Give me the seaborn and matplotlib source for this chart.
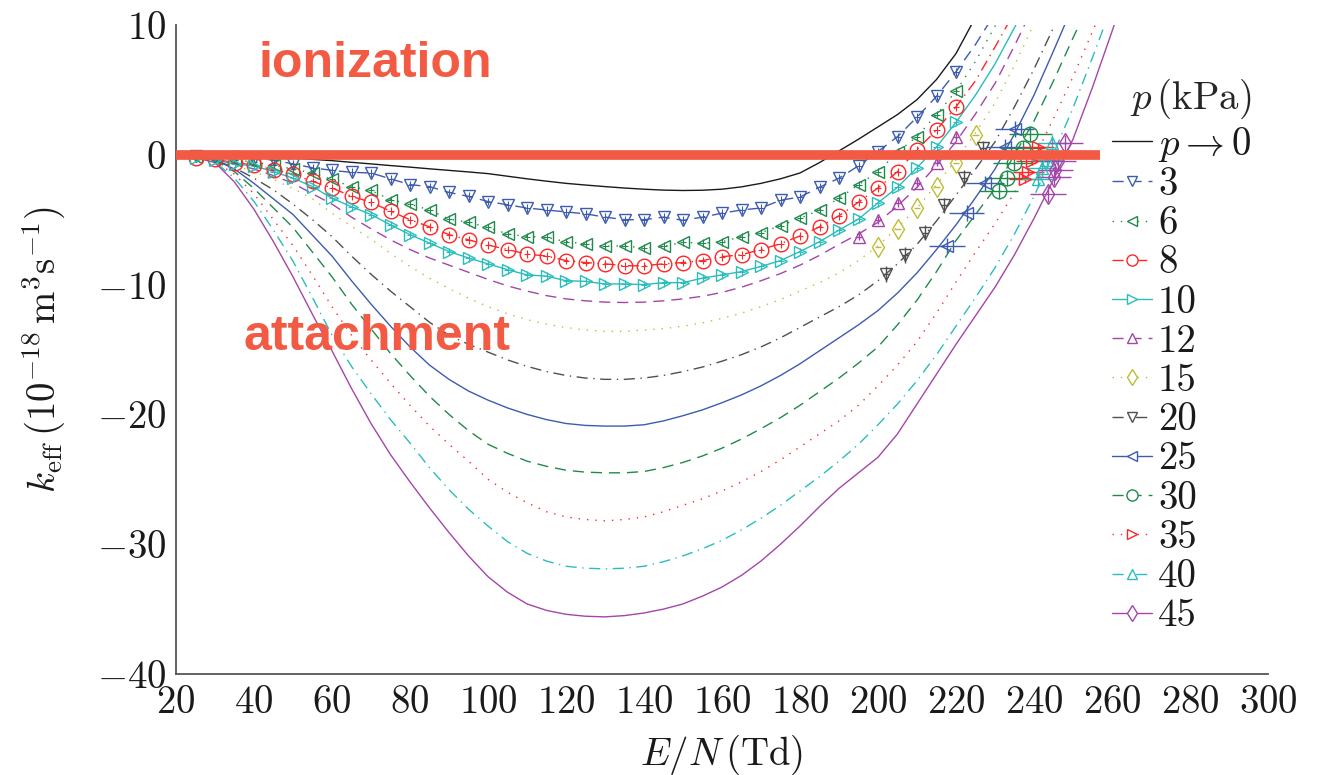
import matplotlib
matplotlib.use("Agg")
import numpy as np
import pandas as pd
import seaborn as sns
import matplotlib.pyplot as plt
from matplotlib.lines import Line2D

# ---------------- data ----------------
# dense E/N grid (low pressures, measured every 5 Td up to 220 Td)
EN_DENSE = [25, 30, 35, 40, 45, 50, 55, 60, 65, 70, 75, 80, 85, 90, 95, 100,
            105, 110, 115, 120, 125, 130, 135, 140, 145, 150, 155, 160, 165,
            170, 175, 180, 185, 190, 195, 200, 205, 210, 215, 220,
            225, 230, 235, 240]
N_MEAS_LOW = 40  # number of measured points (25..220 Td)

K_3 = [-0.1, -0.15, -0.2, -0.3, -0.4, -0.7, -1.0, -1.2, -1.35, -1.4, -1.85, -2.3,
       -2.45, -2.9, -3.2, -3.6, -3.85, -4.1, -4.25, -4.4, -4.55, -4.8, -5.0, -5.0,
       -4.8, -5.05, -4.8, -4.5, -4.25, -4.1, -3.5, -3.25, -2.5, -1.8, -0.85, 0.25,
       1.4, 2.9, 4.5, 6.4, 8.5, 10.9, 13.5, 16.0]
K_6 = [-0.15, -0.25, -0.4, -0.55, -0.8, -1.1, -1.4, -1.9, -2.45, -2.75, -3.45, -3.8,
       -4.25, -4.95, -5.2, -5.6, -6.1, -6.3, -6.35, -6.7, -6.85, -7.05, -7.0, -7.2,
       -7.05, -6.75, -6.8, -6.7, -6.3, -6.0, -5.45, -4.9, -4.25, -3.35, -2.3, -1.3,
       0.2, 1.4, 3.1, 4.9, 7.2, 9.9, 12.6, 15.5]
K_8 = [-0.25, -0.35, -0.6, -0.8, -1.15, -1.5, -2.05, -2.55, -3.2, -3.65, -4.35, -5.0,
       -5.55, -6.15, -6.55, -6.95, -7.3, -7.65, -7.8, -8.15, -8.3, -8.4, -8.55, -8.55,
       -8.4, -8.3, -8.15, -7.85, -7.7, -7.3, -6.85, -6.25, -5.55, -4.7, -3.65, -2.55,
       -1.3, 0.4, 1.9, 3.7, 5.7, 8.3, 11.0, 14.0]
K_10 = [-0.25, -0.4, -0.7, -0.85, -1.3, -1.8, -2.45, -3.35, -4.0, -4.6, -5.4, -6.15,
        -6.8, -7.45, -7.95, -8.4, -8.85, -9.25, -9.35, -9.7, -9.75, -9.95, -9.95, -10.0,
        -9.85, -9.85, -9.5, -9.25, -9.0, -8.6, -8.15, -7.45, -6.7, -5.8, -4.95, -3.7,
        -2.5, -1.0, 0.6, 2.5, 4.6, 7.0, 9.8, 12.8]

# model curves, 5 Td grid
EN_GRID = [25, 30, 35, 40, 45, 50, 55, 60, 65, 70, 75, 80, 85, 90, 95, 100,
           105, 110, 115, 120, 125, 130, 135, 140, 145, 150, 155, 160, 165,
           170, 175, 180, 185, 190, 195, 200, 205, 210, 215, 220, 225, 230,
           235, 240, 245, 250, 255, 260, 265]
K_0 = [0.0, -0.02, -0.05, -0.1, -0.18, -0.25, -0.35, -0.45, -0.58, -0.7, -0.83, -0.95,
       -1.08, -1.2, -1.32, -1.45, -1.65, -1.85, -2.03, -2.2, -2.33, -2.45, -2.56, -2.65,
       -2.72, -2.75, -2.73, -2.65, -2.47, -2.2, -1.85, -1.4, -0.6, 0.3, 1.2, 2.15,
       3.1, 4.25, 5.8, 7.8, 10.6, 13.5, 16.5, 19.5, 22.5, 25.5, 28.5, 32.0, 35.5]
K_12 = [-0.2, -0.3, -0.7, -1.1, -1.6, -2.2, -3.0, -3.8, -4.8, -5.7, -6.55, -7.3,
        -7.95, -8.5, -9.05, -9.6, -10.1, -10.5, -10.85, -11.1, -11.25, -11.35, -11.38,
        -11.35, -11.25, -11.1, -10.9, -10.6, -10.2, -9.7, -9.15, -8.5, -7.75, -6.9,
        -6.1, -5.2, -3.95, -2.5, -0.8, 1.0, 3.15, 5.5, 8.4, 11.5, 14.7, 18.0, 21.5,
        25.0, 28.5]
K_15 = [-0.2, -0.35, -0.8, -1.3, -1.9, -2.6, -3.4, -4.5, -5.5, -6.5, -7.6, -8.6,
        -9.5, -10.3, -11.05, -11.7, -12.25, -12.7, -13.05, -13.3, -13.5, -13.6, -13.6,
        -13.5, -13.4, -13.2, -12.95, -12.6, -12.2, -11.7, -11.15, -10.5, -9.85, -9.1,
        -8.15, -7.0, -5.6, -4.1, -2.3, -0.4, 1.7, 4.0, 6.9, 10.1, 13.5, 17.0, 20.5,
        24.0, 27.5]
K_20 = [-0.2, -0.4, -1.0, -1.8, -2.7, -3.8, -5.0, -6.3, -7.8, -9.2, -10.5, -11.7,
        -12.9, -13.9, -14.6, -15.2, -15.8, -16.3, -16.7, -17.0, -17.2, -17.3, -17.3,
        -17.2, -17.0, -16.7, -16.35, -15.9, -15.4, -14.8, -14.1, -13.3, -12.5, -11.7,
        -10.8, -9.7, -8.4, -6.9, -5.1, -3.1, -1.1, 1.0, 3.7, 6.6, 9.8, 13.0, 16.5,
        20.0, 23.5]
K_25 = [-0.2, -0.4, -1.1, -2.2, -3.4, -4.6, -6.2, -7.8, -9.7, -11.5, -13.2, -14.8,
        -16.2, -17.3, -18.2, -18.9, -19.5, -20.0, -20.4, -20.7, -20.85, -20.9, -20.9,
        -20.8, -20.5, -20.1, -19.65, -19.1, -18.5, -17.8, -17.0, -16.1, -15.1, -14.1,
        -13.1, -12.0, -10.65, -9.1, -7.3, -5.4, -3.3, -1.1, 1.6, 4.6, 8.0, 11.5, 15.2,
        19.0, 23.0]
K_30 = [-0.2, -0.45, -1.3, -2.6, -4.1, -5.6, -7.5, -9.4, -11.5, -13.4, -15.3, -17.0,
        -18.6, -20.0, -21.25, -22.3, -23.0, -23.6, -24.0, -24.3, -24.45, -24.5, -24.5,
        -24.4, -24.1, -23.7, -23.2, -22.6, -21.9, -21.1, -20.25, -19.3, -18.25, -17.2,
        -16.05, -14.8, -13.1, -11.2, -9.0, -6.6, -4.6, -2.6, 0.0, 2.6, 5.7, 9.0, 12.2,
        15.5, 19.0]
K_35 = [-0.2, -0.5, -1.5, -3.0, -5.0, -7.0, -9.3, -11.7, -13.9, -15.8, -17.6, -19.3,
        -20.9, -22.3, -23.6, -25.0, -26.0, -26.8, -27.5, -27.9, -28.1, -28.2, -28.1,
        -27.9, -27.5, -27.0, -26.5, -25.9, -25.2, -24.4, -23.5, -22.5, -21.5, -20.5,
        -19.3, -17.8, -16.2, -14.4, -12.2, -9.8, -7.5, -5.3, -2.9, -0.3, 2.8, 6.0, 9.5,
        13.0, 16.5]
K_40 = [-0.2, -0.55, -1.8, -3.6, -5.8, -8.2, -11.0, -13.9, -16.3, -18.4, -20.4, -22.2,
        -24.1, -25.8, -27.3, -28.6, -29.8, -30.7, -31.3, -31.7, -31.85, -31.9, -31.85,
        -31.7, -31.35, -30.9, -30.35, -29.7, -28.9, -28.0, -27.0, -25.9, -24.8, -23.6,
        -22.3, -20.8, -19.2, -17.4, -15.4, -13.2, -11.0, -8.7, -6.1, -3.2, 0.1, 3.6,
        7.5, 11.5, 15.5]
K_45 = [-0.2, -0.6, -2.1, -4.2, -6.7, -9.4, -12.3, -15.1, -18.0, -20.7, -23.1, -25.2,
        -27.2, -29.1, -30.9, -32.5, -33.7, -34.6, -35.1, -35.4, -35.55, -35.6, -35.5,
        -35.3, -35.0, -34.6, -34.0, -33.3, -32.4, -31.3, -30.0, -28.6, -27.1, -25.7,
        -24.5, -23.3, -21.5, -19.2, -16.9, -14.6, -12.4, -10.2, -7.7, -4.9, -1.9, 1.2,
        5.2, 9.5, 14.0]

# measured points at higher pressure (with error bars)
EN_M12 = [195, 200, 205, 210, 215, 220]
K_M12 = [-6.3, -5.0, -3.7, -2.2, -0.6, 1.4]
EN_M15 = [200, 205, 210, 215, 220, 225]
K_M15 = [-7.1, -5.7, -4.1, -2.5, -0.6, 1.5]
EN_M20 = [202, 207, 212, 217, 222, 227]
K_M20 = [-9.2, -7.7, -6.0, -3.9, -1.8, 0.5]
EN_M25 = [217.7, 222.8, 227.4, 232.6, 235.1]
K_M25 = [-7.0, -4.5, -2.2, 0.6, 2.0]
XERR_M25 = [4.5, 4.5, 4.8, 5.0, 5.0]
EN_M30 = [231.0, 233.0, 234.9, 237.2, 239.0]
K_M30 = [-2.8, -1.8, -0.6, 0.5, 1.6]
XERR_M30 = [5.0, 5.5, 5.5, 5.5, 5.5]
EN_M35 = [237.7, 238.5, 239.5, 241.0]
K_M35 = [-1.9, -1.3, -0.5, 0.6]
XERR_M35 = [4.0, 4.0, 4.0, 4.0]
EN_M40 = [241.0, 242.0, 243.3, 244.6]
K_M40 = [-1.85, -1.0, -0.4, 0.9]
XERR_M40 = [4.0, 4.0, 4.0, 4.0]
EN_M45 = [243.6, 245.0, 245.4, 246.2, 248.0]
K_M45 = [-3.0, -1.7, -1.2, -0.5, 0.9]
XERR_M45 = [4.5, 4.5, 4.5, 4.5, 4.5]
XERR_SMALL = 0.8
YERR_SMALL = 0.3
YERR_HIGH = 0.6

LEGEND_LABELS = [r"$p \rightarrow 0$", "3", "6", "8", "10", "12", "15", "20",
                 "25", "30", "35", "40", "45"]
RED_LINE_EN = [20, 257]
XTICKS = [20, 40, 60, 80, 100, 120, 140, 160, 180, 200, 220, 240, 260, 280, 300]
YTICKS = [-40, -30, -20, -10, 0, 10]

# ---------------- style ----------------
BLACK = "#1a1a1a"
BLUE = "#3d5cb0"
GREEN = "#1f8a4c"
RED = "#ff2626"
CYAN = "#2bbcbc"
MAGENTA = "#a446a8"
OLIVE = "#bdbd35"
GRAY = "#505050"
ACCENT = "#f25a44"

DASHED = (0, (8, 5))
DOTTED = (0, (1, 5))
DASHDOT = (0, (8, 4, 1, 4))
SOLID = "-"
FS = 28

sns.set_theme(style="white")
plt.rcParams.update({
    "font.family": "serif",
    "font.serif": ["cmr10"],
    "mathtext.fontset": "cm",
    "axes.formatter.use_mathtext": True,
    "axes.unicode_minus": True,
    "font.size": FS,
})

fig = plt.figure(figsize=(13.19, 7.75), dpi=100)
ax = fig.add_axes([176 / 1319, 1 - 674 / 775, (1268 - 176) / 1319, (674 - 25) / 775])

series = [
    # label, x, y, color, linestyle, marker
    ("0", EN_GRID, K_0, BLACK, SOLID, None),
    ("3", EN_DENSE, K_3, BLUE, DASHED, "v"),
    ("6", EN_DENSE, K_6, GREEN, DOTTED, "<"),
    ("8", EN_DENSE, K_8, RED, DASHDOT, "o"),
    ("10", EN_DENSE, K_10, CYAN, SOLID, ">"),
    ("12", EN_GRID, K_12, MAGENTA, DASHED, "^"),
    ("15", EN_GRID, K_15, OLIVE, DOTTED, "d"),
    ("20", EN_GRID, K_20, GRAY, DASHDOT, "v"),
    ("25", EN_GRID, K_25, BLUE, SOLID, "<"),
    ("30", EN_GRID, K_30, GREEN, DASHED, "o"),
    ("35", EN_GRID, K_35, RED, DOTTED, ">"),
    ("40", EN_GRID, K_40, CYAN, DASHDOT, "^"),
    ("45", EN_GRID, K_45, MAGENTA, SOLID, "d"),
]

MS = {"v": 9, "^": 9, "<": 9, ">": 9, "o": 10.5, "d": 10.5}
MS_LEG = {"v": 7, "^": 7, "<": 7, ">": 7, "o": 8, "d": 8.5}

for lab, xs, ys, col, ls, mk in series:
    sns.lineplot(x=xs, y=ys, ax=ax, color=col, linewidth=1.0,
                 estimator=None, sort=False, legend=False)
    ax.lines[-1].set_linestyle(ls)

# measured low-pressure data (every 5 Td)
for lab, ys, col, mk in [("3", K_3, BLUE, "v"), ("6", K_6, GREEN, "<"),
                         ("8", K_8, RED, "o"), ("10", K_10, CYAN, ">")]:
    ax.errorbar(EN_DENSE[:N_MEAS_LOW], ys[:N_MEAS_LOW], xerr=XERR_SMALL, yerr=YERR_SMALL,
                fmt=mk, ms=MS[mk], mfc="none", mec=col, mew=1.0, ecolor=col,
                elinewidth=0.8, capsize=0, linestyle="none", zorder=4)

meas_high = [
    (EN_M12, K_M12, XERR_SMALL, YERR_SMALL, MAGENTA, "^"),
    (EN_M15, K_M15, XERR_SMALL, 0.0, OLIVE, "d"),
    (EN_M20, K_M20, XERR_SMALL, YERR_HIGH, GRAY, "v"),
    (EN_M25, K_M25, XERR_M25, YERR_HIGH, BLUE, "<"),
    (EN_M30, K_M30, XERR_M30, YERR_HIGH, GREEN, "o"),
    (EN_M35, K_M35, XERR_M35, YERR_SMALL, RED, ">"),
    (EN_M40, K_M40, XERR_M40, YERR_HIGH, CYAN, "^"),
    (EN_M45, K_M45, XERR_M45, YERR_HIGH, MAGENTA, "d"),
]
for xs, ys, xe, ye, col, mk in meas_high:
    ax.errorbar(xs, ys, xerr=xe, yerr=ye, fmt=mk, ms=MS[mk], mfc="none", mec=col,
                mew=1.0, ecolor=col, elinewidth=1.0, capsize=0, linestyle="none",
                zorder=4)

# accent line and annotations
ax.plot(RED_LINE_EN, [0, 0], color=ACCENT, lw=7, solid_capstyle="butt", zorder=10)
ax.text(71, 6.0, "ionization", color=ACCENT, fontsize=36, fontweight="bold",
        family="Liberation Sans", ha="center", va="baseline", zorder=11)
ax.text(71.5, -15.0, "attachment", color=ACCENT, fontsize=36, fontweight="bold",
        family="Liberation Sans", ha="center", va="baseline", zorder=11)

# axes
ax.set_xlim(20, 300)
ax.set_ylim(-40, 10)
ax.set_xticks(XTICKS)
ax.set_yticks(YTICKS)
sns.despine(ax=ax)
for s in ["left", "bottom"]:
    ax.spines[s].set_color("#555555")
    ax.spines[s].set_linewidth(1.3)
ax.tick_params(direction="in", length=7, width=0.8, color="#aaaaaa",
               labelcolor=BLACK, labelsize=FS)
ax.tick_params(axis="y", pad=7)
ax.tick_params(axis="x", pad=8)
ax.set_xlabel(r"$E/N\,(\mathrm{Td})$", fontsize=FS, color=BLACK)
ax.set_ylabel(r"$k_{\mathrm{eff}}\,(10^{-18}\,\mathrm{m}^3\mathrm{s}^{-1})$",
              fontsize=FS, color=BLACK)
ax.xaxis.set_label_coords(0.5, -0.09)
ax.yaxis.set_label_coords(-0.1, 0.5)

# legend
handles = []
for lab, xs, ys, col, ls, mk in series:
    if mk is None:
        handles.append(Line2D([], [], color=col, lw=1.0, linestyle=ls))
    else:
        handles.append(Line2D([], [], color=col, lw=1.0, linestyle=ls, marker=mk,
                              ms=MS_LEG[mk], mfc="white", mec=col, mew=1.0))
leg = ax.legend(handles, LEGEND_LABELS, title=r"$p\,(\mathrm{kPa})$",
                loc="upper left", bbox_to_anchor=(1112 / 1319, 1 - 77 / 775),
                bbox_transform=fig.transFigure, frameon=False, borderpad=0,
                borderaxespad=0, handlelength=1.03, handletextpad=0.15,
                labelspacing=0.087, fontsize=FS, title_fontsize=FS, numpoints=1,
                alignment="right")
for t in leg.get_texts():
    t.set_color(BLACK)

fig.savefig("out.png", dpi=100)
